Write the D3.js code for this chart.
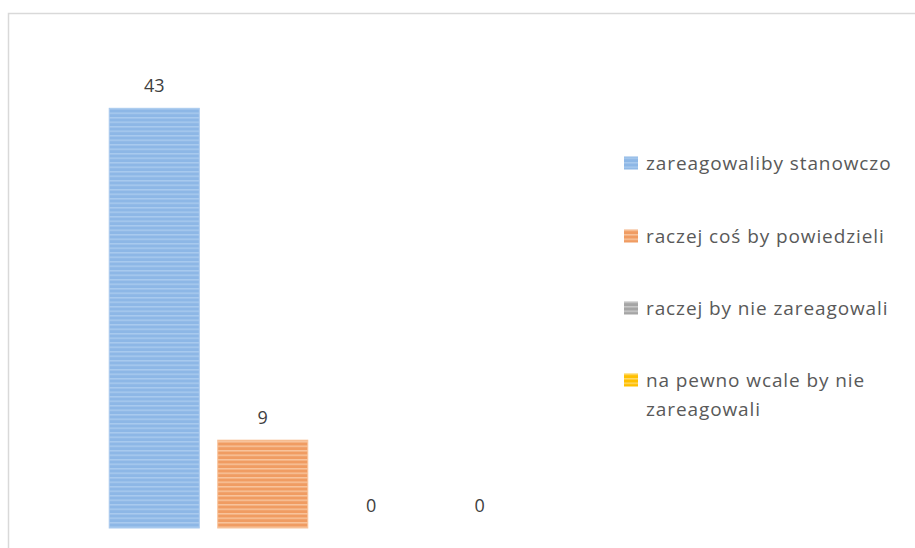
<!DOCTYPE html>
<html>
<head>
<meta charset="utf-8">
<script src="https://cdn.jsdelivr.net/npm/d3@7/dist/d3.min.js"></script>
<style>
  html, body { margin: 0; padding: 0; background: #fff; }
  svg { display: block; }
  text { font-family: "Open Sans", "Noto Sans", sans-serif; }
</style>
</head>
<body>
<svg id="chart" width="915" height="548"></svg>
<script>
const categories = ["zareagowaliby stanowczo", "raczej coś by powiedzieli", "raczej by nie zareagowali", "na pewno wcale by nie zareagowali"];
const values = [43, 9, 0, 0];
const legendLines = [["zareagowaliby stanowczo"], ["raczej coś by powiedzieli"], ["raczej by nie zareagowali"], ["na pewno wcale by nie", "zareagowali"]];
const colors = ["#8db7e6", "#f09c62", "#a5a5a5", "#ffc000"];
const stripeColors = ["#a9caee", "#f8c49c", "#c8c8c8", "#ffd966"];

const svg = d3.select("#chart");

// chart border
svg.append("rect")
  .attr("x", 8.5).attr("y", 13.5)
  .attr("width", 940).attr("height", 560)
  .attr("fill", "none").attr("stroke", "#d9d9d9").attr("stroke-width", 1.5);

// patterns
const defs = svg.append("defs");
colors.forEach((c, i) => {
  const p = defs.append("pattern")
    .attr("id", "pat" + i)
    .attr("patternUnits", "userSpaceOnUse")
    .attr("width", 8).attr("height", 4.5);
  p.append("rect").attr("width", 8).attr("height", 4.5).attr("fill", c);
  p.append("rect").attr("y", 0).attr("width", 8).attr("height", 1.5).attr("fill", stripeColors[i]);
});

const x = d3.scaleBand().domain(categories).range([100, 534]).paddingInner(0.17).paddingOuter(0.085);
const y = d3.scaleLinear().domain([0, 50]).range([528, 40]);

svg.append("g").selectAll("rect")
  .data(values)
  .join("rect")
  .attr("x", (d, i) => x(categories[i]))
  .attr("y", d => y(d))
  .attr("width", x.bandwidth())
  .attr("height", d => y(0) - y(d))
  .attr("fill", (d, i) => `url(#pat${i})`)
  .attr("stroke", (d, i) => stripeColors[i])
  .attr("stroke-width", 1);

svg.append("g").selectAll("text")
  .data(values)
  .join("text")
  .attr("x", (d, i) => x(categories[i]) + x.bandwidth() / 2)
  .attr("y", d => y(d) - 16)
  .attr("text-anchor", "middle")
  .attr("font-size", 18)
  .attr("fill", "#404040")
  .text(d => d);

// legend
const legendY = [163, 236, 308, 380];
const lg = svg.append("g");
legendLines.forEach((lines, i) => {
  lg.append("rect")
    .attr("x", 624).attr("y", legendY[i] - 6.5)
    .attr("width", 14).attr("height", 13)
    .attr("fill", `url(#pat${i})`);
  const t = lg.append("text")
    .attr("x", 646).attr("y", legendY[i] + 6.5)
    .attr("font-size", 19)
    .attr("letter-spacing", 0.9)
    .attr("fill", "#595959");
  lines.forEach((ln, j) => {
    t.append("tspan").attr("x", 646).attr("dy", j === 0 ? 0 : 29).text(ln);
  });
});
</script>
</body>
</html>
